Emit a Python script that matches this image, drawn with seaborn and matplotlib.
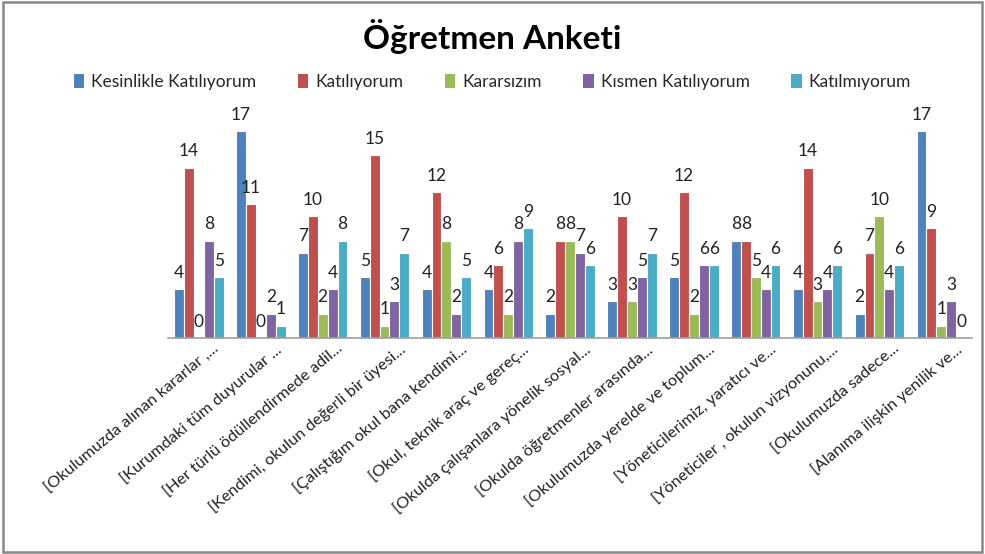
import pandas as pd
import numpy as np
import matplotlib.pyplot as plt
import matplotlib.transforms as mtransforms
import seaborn as sns
from matplotlib.patches import Rectangle, Patch

# ======================================
# DATA
# ======================================

questions = [
    "[Okulumuzda alınan kararlar ,...",
    "[Kurumdaki tüm duyurular ...",
    "[Her türlü ödüllendirmede adil...",
    "[Kendimi, okulun değerli bir üyesi...",
    "[Çalıştığım okul bana kendimi...",
    "[Okul, teknik araç ve gereç...",
    "[Okulda çalışanlara yönelik sosyal...",
    "[Okulda öğretmenler arasında...",
    "[Okulumuzda yerelde ve toplum...",
    "[Yöneticilerimiz, yaratıcı ve...",
    "[Yöneticiler , okulun vizyonunu,...",
    "[Okulumuzda sadece...",
    "[Alanıma ilişkin yenilik ve...",
]

answers = [
    "Kesinlikle Katılıyorum",
    "Katılıyorum",
    "Kararsızım",
    "Kısmen Katılıyorum",
    "Katılmıyorum",
]

kesinlikle = [4, 17, 7, 5, 4, 4, 2, 3, 5, 8, 4, 2, 17]
katiliyorum = [14, 11, 10, 15, 12, 6, 8, 10, 12, 8, 14, 7, 9]
kararsizim = [0, 0, 2, 1, 8, 2, 8, 3, 2, 5, 3, 10, 1]
kismen = [8, 2, 4, 3, 2, 8, 7, 5, 6, 4, 4, 4, 3]
katilmiyorum = [5, 1, 8, 7, 5, 9, 6, 7, 6, 6, 6, 6, 0]

colors = ["#4F81BD", "#C0504D", "#9BBB59", "#8064A2", "#4BACC6"]

# ======================================
# LONG FORMAT
# ======================================

series = [kesinlikle, katiliyorum, kararsizim, kismen, katilmiyorum]

rows = []
for name, vals in zip(answers, series):
    for q, v in zip(questions, vals):
        rows.append({"Soru": q, "Cevap": name, "Sayi": v})

df = pd.DataFrame(rows)

# ======================================
# PLOT
# ======================================

sns.set_style("white")
plt.rcParams["font.family"] = ["Lato", "DejaVu Sans"]

fig = plt.figure(figsize=(9.85, 5.54), dpi=100)
ax = fig.add_axes([0.1706, 0.3899, 0.8164, 0.42])

sns.barplot(
    data=df,
    x="Soru",
    y="Sayi",
    hue="Cevap",
    order=questions,
    hue_order=answers,
    palette=colors,
    width=0.8,
    saturation=1,
    edgecolor="white",
    linewidth=0.8,
    ax=ax,
)

ax.legend_.remove()

for cont in ax.containers:
    ax.bar_label(cont, fmt="%d", padding=6, fontsize=12.5, color="#222222")

ax.set_ylim(0, 17 * 232 / 206.3)
ax.set_xlim(-0.5, len(questions) - 0.5)
ax.set_xlabel("")
ax.set_ylabel("")
ax.set_yticks([])

for side in ["left", "right", "top"]:
    ax.spines[side].set_visible(False)
ax.spines["bottom"].set_color("#a0a0a0")
ax.spines["bottom"].set_linewidth(1.2)

ax.tick_params(axis="x", length=0, pad=3)
ax.set_xticks(range(len(questions)))
ax.set_xticklabels(
    questions,
    rotation=40,
    ha="right",
    rotation_mode="anchor",
    fontsize=11.8,
    color="#222222",
)
# shift rotated labels a little to the right, as in the original
shift = mtransforms.ScaledTranslation(14 / 100, 0, fig.dpi_scale_trans)
for lbl in ax.get_xticklabels():
    lbl.set_transform(lbl.get_transform() + shift)

# legend
handles = [Patch(facecolor=c, edgecolor="none") for c in colors]
fig.legend(
    handles,
    answers,
    loc="center",
    bbox_to_anchor=(0.5, 0.852),
    ncol=5,
    frameon=False,
    fontsize=12.5,
    handlelength=0.6,
    handleheight=0.9,
    handletextpad=0.4,
    columnspacing=2.4,
)

fig.text(
    0.5, 0.935, "Öğretmen Anketi",
    ha="center", va="center",
    fontsize=24, fontweight="bold", color="black",
)

# chart border
fig.patches.append(
    Rectangle(
        (0.003, 0.004), 0.994, 0.992,
        transform=fig.transFigure,
        fill=False, edgecolor="#888888", linewidth=1.8,
    )
)

fig.savefig("out.png", dpi=100)
plt.close(fig)
